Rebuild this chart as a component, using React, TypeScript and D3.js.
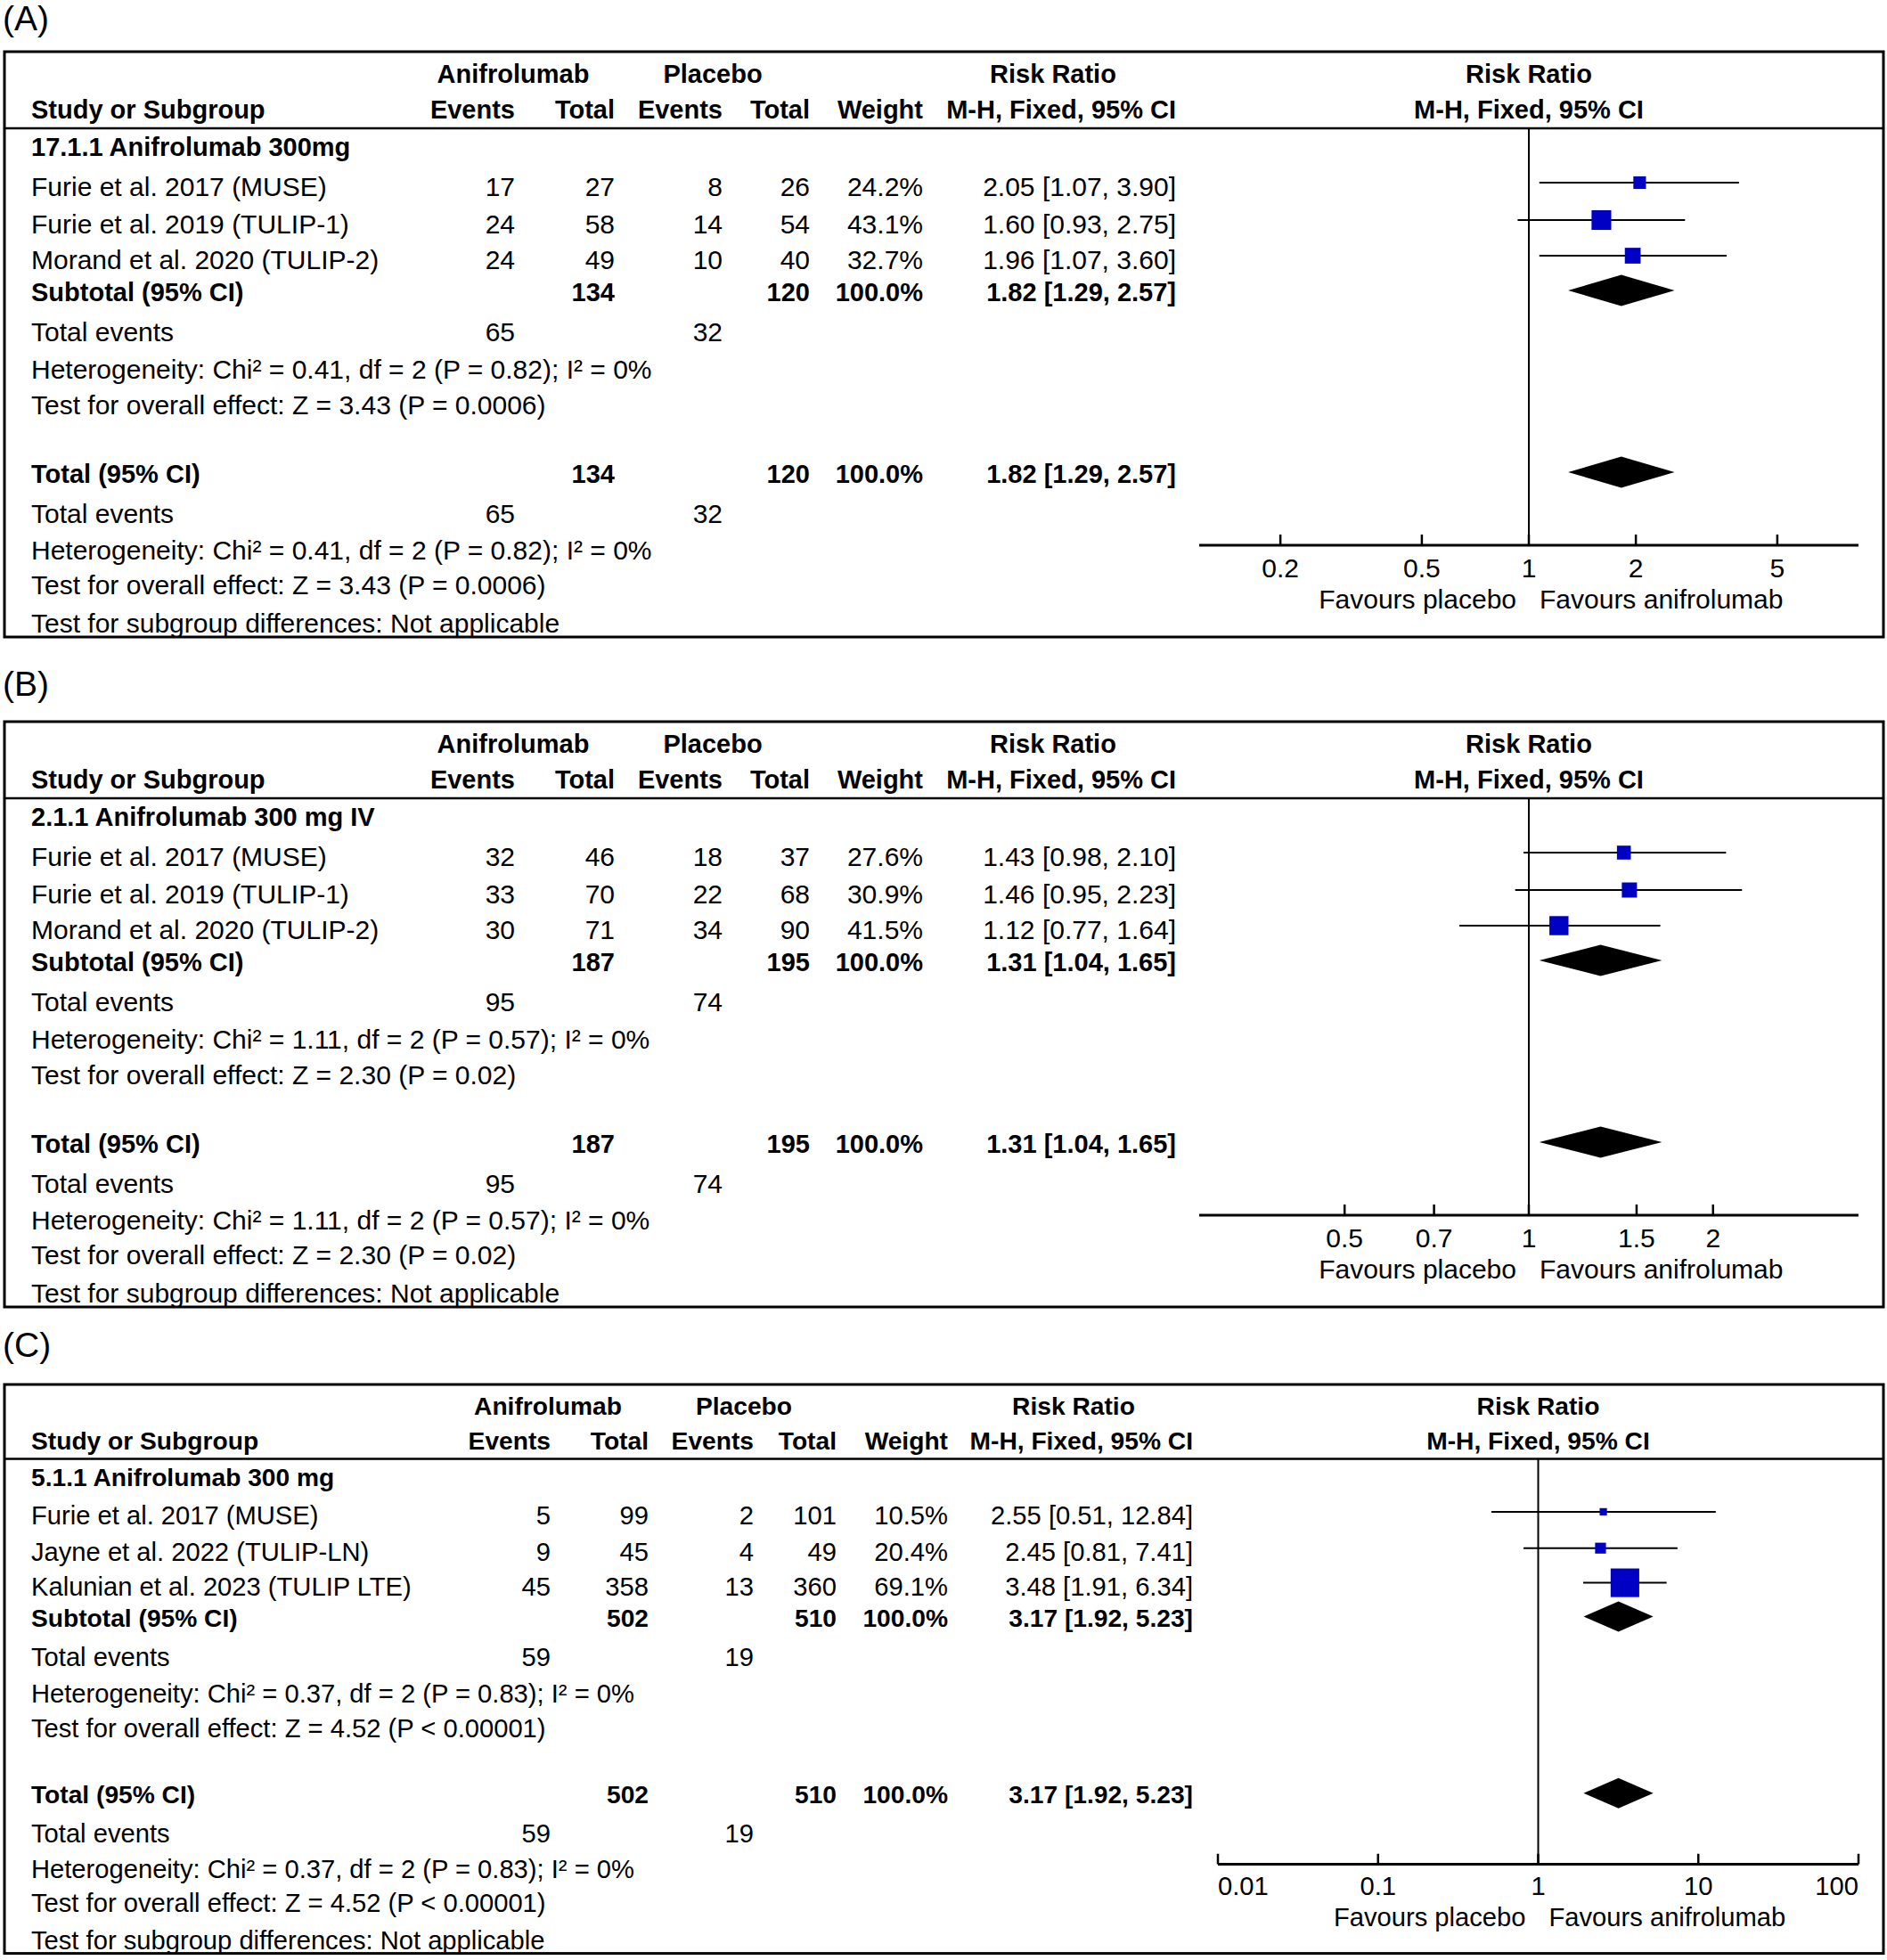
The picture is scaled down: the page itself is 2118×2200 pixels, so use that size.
import React from 'react';
import * as d3 from 'd3';

type Study = {
  name: string; e1: number; n1: number; e2: number; n2: number;
  weight: number; rr: number; lo: number; hi: number;
};
type Pooled = { e1: number; n1: number; e2: number; n2: number; rr: number; lo: number; hi: number };

// ---- Panel A: 17.1.1 Anifrolumab 300mg
const subgroupA = '17.1.1 Anifrolumab 300mg';
const studiesA: Study[] = [
  { name: 'Furie et al. 2017 (MUSE)', e1: 17, n1: 27, e2: 8, n2: 26, weight: 24.2, rr: 2.05, lo: 1.07, hi: 3.90 },
  { name: 'Furie et al. 2019 (TULIP-1)', e1: 24, n1: 58, e2: 14, n2: 54, weight: 43.1, rr: 1.60, lo: 0.93, hi: 2.75 },
  { name: 'Morand et al. 2020 (TULIP-2)', e1: 24, n1: 49, e2: 10, n2: 40, weight: 32.7, rr: 1.96, lo: 1.07, hi: 3.60 },
];
const pooledA: Pooled = { e1: 65, n1: 134, e2: 32, n2: 120, rr: 1.82, lo: 1.29, hi: 2.57 };
const hetA = 'Heterogeneity: Chi² = 0.41, df = 2 (P = 0.82); I² = 0%';
const effectA = 'Test for overall effect: Z = 3.43 (P = 0.0006)';
const ticksA = [0.2, 0.5, 1, 2, 5];
const domainA: [number, number] = [0.1182, 8.46];

// ---- Panel B: 2.1.1 Anifrolumab 300 mg IV
const subgroupB = '2.1.1 Anifrolumab 300 mg IV';
const studiesB: Study[] = [
  { name: 'Furie et al. 2017 (MUSE)', e1: 32, n1: 46, e2: 18, n2: 37, weight: 27.6, rr: 1.43, lo: 0.98, hi: 2.10 },
  { name: 'Furie et al. 2019 (TULIP-1)', e1: 33, n1: 70, e2: 22, n2: 68, weight: 30.9, rr: 1.46, lo: 0.95, hi: 2.23 },
  { name: 'Morand et al. 2020 (TULIP-2)', e1: 30, n1: 71, e2: 34, n2: 90, weight: 41.5, rr: 1.12, lo: 0.77, hi: 1.64 },
];
const pooledB: Pooled = { e1: 95, n1: 187, e2: 74, n2: 195, rr: 1.31, lo: 1.04, hi: 1.65 };
const hetB = 'Heterogeneity: Chi² = 1.11, df = 2 (P = 0.57); I² = 0%';
const effectB = 'Test for overall effect: Z = 2.30 (P = 0.02)';
const ticksB = [0.5, 0.7, 1, 1.5, 2];
const domainB: [number, number] = [0.2893, 3.457];

// ---- Panel C: 5.1.1 Anifrolumab 300 mg
const subgroupC = '5.1.1 Anifrolumab 300 mg';
const studiesC: Study[] = [
  { name: 'Furie et al. 2017 (MUSE)', e1: 5, n1: 99, e2: 2, n2: 101, weight: 10.5, rr: 2.55, lo: 0.51, hi: 12.84 },
  { name: 'Jayne et al. 2022 (TULIP-LN)', e1: 9, n1: 45, e2: 4, n2: 49, weight: 20.4, rr: 2.45, lo: 0.81, hi: 7.41 },
  { name: 'Kalunian et al. 2023 (TULIP LTE)', e1: 45, n1: 358, e2: 13, n2: 360, weight: 69.1, rr: 3.48, lo: 1.91, hi: 6.34 },
];
const pooledC: Pooled = { e1: 59, n1: 502, e2: 19, n2: 510, rr: 3.17, lo: 1.92, hi: 5.23 };
const hetC = 'Heterogeneity: Chi² = 0.37, df = 2 (P = 0.83); I² = 0%';
const effectC = 'Test for overall effect: Z = 4.52 (P < 0.00001)';
const ticksC = [0.01, 0.1, 1, 10, 100];
const domainC: [number, number] = [0.01, 100];

const FONT = '"Liberation Sans", Arial, sans-serif';
const BLUE = '#0000c4';

// vertical offsets (baselines) relative to the box top
const L = {
  h1: 35, h2: 75, hline: 86, sub: 117, rows: [162, 204, 244], subtotal: 280,
  te1: 325, het1: 367, eff1: 407, total: 484, te2: 529, het2: 570, eff2: 609, sgd: 652,
  axis: 554, tick: 590, fav: 625, bottom: 657,
};

type Cols = { study: number; e1: number; n1: number; e2: number; n2: number; w: number; rr: number; aniC: number; plaC: number; rrHead: number };
const colsAB: Cols = { study: 35, e1: 578, n1: 690, e2: 811, n2: 909, w: 1036, rr: 1320, aniC: 576, plaC: 800, rrHead: 1182 };
const colsC: Cols = { study: 35, e1: 618, n1: 728, e2: 846, n2: 939, w: 1064, rr: 1339, aniC: 615, plaC: 835, rrHead: 1205 };

const fmtRR = (r: number, lo: number, hi: number) => `${r.toFixed(2)} [${lo.toFixed(2)}, ${hi.toFixed(2)}]`;

type PanelProps = {
  id: string; label: string; labelY: number; top: number; k: number; cols: Cols;
  subgroup: string; studies: Study[]; pooled: Pooled; het: string; effect: string;
  ticks: number[]; domain: [number, number]; range: [number, number];
};

function Panel(p: PanelProps) {
  const { k, cols } = p;
  const y = (v: number) => p.top + v * k;
  const fs = 30 * k;
  const fb = 29 * k;
  const x = d3.scaleLog().domain(p.domain).range(p.range);
  const size = d3.scaleLinear().domain([0, 100]).range([4 * k, 46 * k]);
  const x1 = x(1);
  const left = 5, right = 2114;
  const boxTop = p.top, boxBottom = y(L.bottom);

  const T = (props: { x: number; y: number; bold?: boolean; anchor?: string; children: React.ReactNode }) => (
    <text x={props.x} y={props.y} fontFamily={FONT} fontSize={props.bold ? fb : fs}
      fontWeight={props.bold ? 700 : 400} textAnchor={props.anchor ?? 'start'} fill="#000">
      {props.children}
    </text>
  );

  const diamond = (yc: number, d: Pooled) => {
    const h = 17.5 * k;
    const pts = [[x(d.lo), yc], [x(d.rr), yc - h], [x(d.hi), yc], [x(d.rr), yc + h]];
    return <path d={d3.line()(pts as [number, number][]) + 'Z'} fill="#000" />;
  };

  const summaryRow = (base: number, title: string) => (
    <g>
      <T x={cols.study} y={y(base)} bold>{title}</T>
      <T x={cols.n1} y={y(base)} bold anchor="end">{p.pooled.n1}</T>
      <T x={cols.n2} y={y(base)} bold anchor="end">{p.pooled.n2}</T>
      <T x={cols.w} y={y(base)} bold anchor="end">100.0%</T>
      <T x={cols.rr} y={y(base)} bold anchor="end">{fmtRR(p.pooled.rr, p.pooled.lo, p.pooled.hi)}</T>
      {diamond(y(base) - 12 * k, p.pooled)}
    </g>
  );

  const eventsRow = (base: number) => (
    <g>
      <T x={cols.study} y={y(base)}>Total events</T>
      <T x={cols.e1} y={y(base)} anchor="end">{p.pooled.e1}</T>
      <T x={cols.e2} y={y(base)} anchor="end">{p.pooled.e2}</T>
    </g>
  );

  const lastIdx = p.ticks.length - 1;

  return (
    <g>
      <defs>
        <clipPath id={`clip-${p.id}`}>
          <rect x={left} y={boxTop} width={right - left} height={boxBottom - boxTop} />
        </clipPath>
      </defs>
      <text x={3} y={p.labelY} fontFamily={FONT} fontSize={39} fill="#000">{p.label}</text>

      <g clipPath={`url(#clip-${p.id})`}>
        {/* headers */}
        <T x={cols.aniC} y={y(L.h1)} bold anchor="middle">Anifrolumab</T>
        <T x={cols.plaC} y={y(L.h1)} bold anchor="middle">Placebo</T>
        <T x={cols.rrHead} y={y(L.h1)} bold anchor="middle">Risk Ratio</T>
        <T x={x1} y={y(L.h1)} bold anchor="middle">Risk Ratio</T>
        <T x={cols.study} y={y(L.h2)} bold>Study or Subgroup</T>
        <T x={cols.e1} y={y(L.h2)} bold anchor="end">Events</T>
        <T x={cols.n1} y={y(L.h2)} bold anchor="end">Total</T>
        <T x={cols.e2} y={y(L.h2)} bold anchor="end">Events</T>
        <T x={cols.n2} y={y(L.h2)} bold anchor="end">Total</T>
        <T x={cols.w} y={y(L.h2)} bold anchor="end">Weight</T>
        <T x={cols.rr} y={y(L.h2)} bold anchor="end">M-H, Fixed, 95% CI</T>
        <T x={x1} y={y(L.h2)} bold anchor="middle">M-H, Fixed, 95% CI</T>
        <line x1={left} x2={right} y1={y(L.hline)} y2={y(L.hline)} stroke="#000" strokeWidth={2.5} />

        <T x={cols.study} y={y(L.sub)} bold>{p.subgroup}</T>

        {/* null line */}
        <line x1={x1} x2={x1} y1={y(L.hline)} y2={y(L.axis)} stroke="#000" strokeWidth={2} />

        {p.studies.map((s, i) => {
          const base = y(L.rows[i]);
          const yc = base - 15 * k;
          const sz = size(s.weight);
          return (
            <g key={s.name}>
              <T x={cols.study} y={base}>{s.name}</T>
              <T x={cols.e1} y={base} anchor="end">{s.e1}</T>
              <T x={cols.n1} y={base} anchor="end">{s.n1}</T>
              <T x={cols.e2} y={base} anchor="end">{s.e2}</T>
              <T x={cols.n2} y={base} anchor="end">{s.n2}</T>
              <T x={cols.w} y={base} anchor="end">{`${s.weight.toFixed(1)}%`}</T>
              <T x={cols.rr} y={base} anchor="end">{fmtRR(s.rr, s.lo, s.hi)}</T>
              <line x1={x(s.lo)} x2={x(s.hi)} y1={yc} y2={yc} stroke="#000" strokeWidth={2} />
              <rect x={x(s.rr) - sz / 2} y={yc - sz / 2} width={sz} height={sz} fill={BLUE} />
            </g>
          );
        })}

        {summaryRow(L.subtotal, 'Subtotal (95% CI)')}
        {eventsRow(L.te1)}
        <T x={cols.study} y={y(L.het1)}>{p.het}</T>
        <T x={cols.study} y={y(L.eff1)}>{p.effect}</T>

        {summaryRow(L.total, 'Total (95% CI)')}
        {eventsRow(L.te2)}
        <T x={cols.study} y={y(L.het2)}>{p.het}</T>
        <T x={cols.study} y={y(L.eff2)}>{p.effect}</T>
        <T x={cols.study} y={y(L.sgd)}>Test for subgroup differences: Not applicable</T>

        {/* axis */}
        <line x1={p.range[0]} x2={p.range[1]} y1={y(L.axis)} y2={y(L.axis)} stroke="#000" strokeWidth={3} />
        {p.ticks.map((t, i) => {
          const tx = x(t);
          const atStart = Math.abs(tx - p.range[0]) < 2 && i === 0;
          const atEnd = Math.abs(tx - p.range[1]) < 2 && i === lastIdx;
          return (
            <g key={t}>
              <line x1={tx} x2={tx} y1={y(L.axis) - 12 * k} y2={y(L.axis)} stroke="#000" strokeWidth={2.5} />
              <T x={tx} y={y(L.tick)} anchor={atStart ? 'start' : atEnd ? 'end' : 'middle'}>{String(t)}</T>
            </g>
          );
        })}
        <T x={x1 - 14} y={y(L.fav)} anchor="end">Favours placebo</T>
        <T x={x1 + 12} y={y(L.fav)}>Favours anifrolumab</T>
      </g>

      <rect x={left} y={boxTop} width={right - left} height={boxBottom - boxTop} fill="none" stroke="#000" strokeWidth={3} />
    </g>
  );
}

export default function App() {
  return (
    <svg width={2118} height={2200} viewBox="0 0 2118 2200"
      style={{ position: 'absolute', left: 0, top: 0, background: '#fff' }}>
      <rect x={0} y={0} width={2118} height={2200} fill="#fff" />
      <Panel id="a" label="(A)" labelY={34} top={58} k={1} cols={colsAB}
        subgroup={subgroupA} studies={studiesA} pooled={pooledA} het={hetA} effect={effectA}
        ticks={ticksA} domain={domainA} range={[1346, 2086]} />
      <Panel id="b" label="(B)" labelY={781} top={810} k={1} cols={colsAB}
        subgroup={subgroupB} studies={studiesB} pooled={pooledB} het={hetB} effect={effectB}
        ticks={ticksB} domain={domainB} range={[1346, 2086]} />
      <Panel id="c" label="(C)" labelY={1523} top={1554} k={0.972} cols={colsC}
        subgroup={subgroupC} studies={studiesC} pooled={pooledC} het={hetC} effect={effectC}
        ticks={ticksC} domain={domainC} range={[1367, 2086]} />
    </svg>
  );
}
